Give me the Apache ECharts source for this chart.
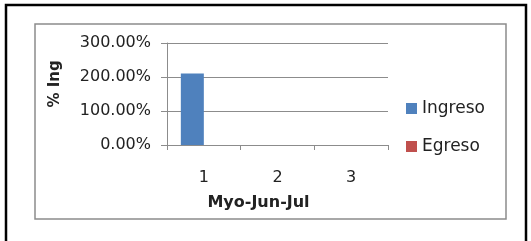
<!DOCTYPE html>
<html>
<head>
<meta charset="utf-8">
<script src="https://cdn.jsdelivr.net/npm/echarts@6/dist/echarts.min.js"></script>
<style>
  html, body { margin: 0; padding: 0; background: #fff; }
  #chart { width: 531px; height: 241px; }
</style>
</head>
<body>
<div id="chart"></div>
<script>
  // datos
  const categories = ['1', '2', '3'];
  const ingreso = [210, 0, 0];   // % ingreso
  const egreso = [0, 0, 0];      // % egreso
  const yTicks = [0, 100, 200, 300];

  const chart = echarts.init(document.getElementById('chart'));
  const font = 'DejaVu Sans';

  chart.setOption({
    animation: false,
    textStyle: { fontFamily: font, color: '#222' },
    graphic: [
      // marco negro exterior
      { type: 'rect', shape: { x: 6, y: 5, width: 520, height: 260 }, style: { fill: 'none', stroke: '#000', lineWidth: 2.5 } },
      // marco gris del área del gráfico
      { type: 'rect', shape: { x: 35, y: 24, width: 471, height: 195 }, style: { fill: 'none', stroke: '#8c8c8c', lineWidth: 1.5 } }
    ],
    legend: {
      orient: 'vertical',
      left: 401,
      top: 95,
      itemWidth: 11,
      itemHeight: 11,
      itemGap: 21,
      icon: 'rect',
      textStyle: { fontFamily: font, fontSize: 17, color: '#222' },
      data: ['Ingreso', 'Egreso']
    },
    grid: { left: 167, right: 143, top: 43, bottom: 96 },
    xAxis: {
      type: 'category',
      data: categories,
      name: 'Myo-Jun-Jul',
      nameLocation: 'middle',
      nameGap: 50,
      nameTextStyle: { fontFamily: font, fontWeight: 'bold', fontSize: 16, color: '#222', padding: [0, 38, 0, 0] },
      axisLine: { lineStyle: { color: '#8c8c8c' } },
      axisTick: { show: true, length: 5, lineStyle: { color: '#8c8c8c' } },
      axisLabel: { fontSize: 16, color: '#222', margin: 25 }
    },
    yAxis: {
      type: 'value',
      min: 0,
      max: 300,
      interval: 100,
      name: '% Ing',
      nameLocation: 'middle',
      nameRotate: 90,
      nameGap: 104,
      nameTextStyle: { fontFamily: font, fontWeight: 'bold', fontSize: 15, color: '#222', padding: [0, 0, 0, 20] },
      axisLine: { show: true, lineStyle: { color: '#8c8c8c' } },
      axisTick: { show: true, length: 6, lineStyle: { color: '#8c8c8c' } },
      splitLine: { lineStyle: { color: '#8c8c8c' } },
      axisLabel: {
        fontSize: 16,
        color: '#222',
        margin: 16,
        formatter: v => yTicks.includes(v) ? v.toFixed(2) + '%' : ''
      }
    },
    series: [
      { name: 'Ingreso', type: 'bar', data: ingreso, barWidth: 23, barGap: '0%', itemStyle: { color: '#4f81bd' } },
      { name: 'Egreso', type: 'bar', data: egreso, barWidth: 23, itemStyle: { color: '#c0504d' } }
    ]
  });
</script>
</body>
</html>
